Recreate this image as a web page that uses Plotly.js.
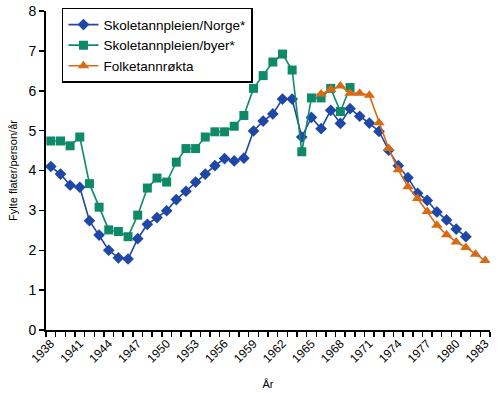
<!DOCTYPE html>
<html>
<head>
<meta charset="utf-8">
<script src="https://cdn.plot.ly/plotly-3.0.1.min.js"></script>
<style>html,body{margin:0;padding:0;background:#fff;}#chart{width:500px;height:393px;}</style>
</head>
<body>
<div id="chart"></div>
<script>
// Years (categories)
const yearsNorge = [1938,1939,1940,1941,1942,1943,1944,1945,1946,1947,1948,1949,1950,1951,1952,1953,1954,1955,1956,1957,1958,1959,1960,1961,1962,1963,1964,1965,1966,1967,1968,1969,1970,1971,1972,1973,1974,1975,1976,1977,1978,1979,1980,1981];
const valuesNorge = [4.10,3.91,3.63,3.58,2.74,2.38,2.00,1.81,1.78,2.29,2.65,2.82,2.99,3.27,3.48,3.71,3.91,4.12,4.30,4.24,4.31,4.99,5.24,5.42,5.79,5.79,4.84,5.33,5.05,5.51,5.18,5.55,5.36,5.19,4.98,4.51,4.12,3.82,3.43,3.25,2.96,2.76,2.53,2.34];

const yearsByer = [1938,1939,1940,1941,1942,1943,1944,1945,1946,1947,1948,1949,1950,1951,1952,1953,1954,1955,1956,1957,1958,1959,1960,1961,1962,1963,1964,1965,1966,1967,1968,1969];
const valuesByer = [4.74,4.74,4.62,4.84,3.67,3.08,2.51,2.47,2.34,2.88,3.56,3.81,3.71,4.21,4.55,4.55,4.84,4.97,4.97,5.11,5.38,6.06,6.38,6.72,6.92,6.52,4.47,5.82,5.82,6.06,5.48,6.08];

const yearsFolke = [1966,1967,1968,1969,1970,1971,1972,1973,1974,1975,1976,1977,1978,1979,1980,1981,1982,1983];
const valuesFolke = [5.92,6.03,6.12,5.94,5.94,5.89,5.20,4.55,4.02,3.59,3.30,2.97,2.63,2.39,2.21,2.07,1.90,1.74];

const seriesNames = ["Skoletannpleien/Norge*", "Skoletannpleien/byer*", "Folketannrøkta"];
const xTickLabels = ["1938","1941","1944","1947","1950","1953","1956","1959","1962","1965","1968","1971","1974","1977","1980","1983"];
const yTicks = [0,1,2,3,4,5,6,7,8];

const blue = "#1f47a8", green = "#0f8a68", orange = "#d96a14";

const traces = [
  {x: yearsNorge, y: valuesNorge, name: seriesNames[0], type: "scatter", mode: "lines+markers",
   line: {color: blue, width: 1.6}, marker: {symbol: "diamond", size: 9, color: blue}},
  {x: yearsByer, y: valuesByer, name: seriesNames[1], type: "scatter", mode: "lines+markers",
   line: {color: green, width: 1.6}, marker: {symbol: "square", size: 9, color: green}},
  {x: yearsFolke, y: valuesFolke, name: seriesNames[2], type: "scatter", mode: "lines+markers",
   line: {color: orange, width: 1.6}, marker: {symbol: "triangle-up", size: 10, color: orange}}
];

const layout = {
  width: 500, height: 393,
  margin: {l: 46, r: 10, t: 8, b: 63},
  paper_bgcolor: "#fff", plot_bgcolor: "#fff",
  font: {family: "Liberation Sans, Arial, sans-serif", color: "#000"},
  showlegend: true,
  legend: {
    x: 0.036, y: 1.01, xanchor: "left", yanchor: "top",
    bgcolor: "#fff", bordercolor: "#000", borderwidth: 1.5,
    font: {size: 13.5, color: "#000"}, traceorder: "normal"
  },
  xaxis: {
    range: [1937.5, 1983.5],
    tickmode: "array",
    tickvals: xTickLabels.map(Number),
    ticktext: xTickLabels,
    tickangle: -45,
    ticks: "",
    tickfont: {size: 12},
    showgrid: false, zeroline: false,
    showline: true, linecolor: "#000", linewidth: 2,
    minor: {ticks: "outside", tick0: 1937.5, dtick: 1, ticklen: 5, tickcolor: "#000", tickwidth: 1.5, showgrid: false},
    title: {text: "År", font: {size: 11}, standoff: 16}
  },
  yaxis: {
    range: [0, 8],
    tickmode: "array",
    tickvals: yTicks,
    ticks: "outside", ticklen: 5, tickcolor: "#000", tickwidth: 1.5,
    tickfont: {size: 14},
    showgrid: false, zeroline: false,
    showline: true, linecolor: "#000", linewidth: 2,
    title: {text: "Fylte flater/person/år", font: {size: 11}, standoff: 9}
  }
};

Plotly.newPlot("chart", traces, layout, {displayModeBar: false, staticPlot: true});
</script>
</body>
</html>
